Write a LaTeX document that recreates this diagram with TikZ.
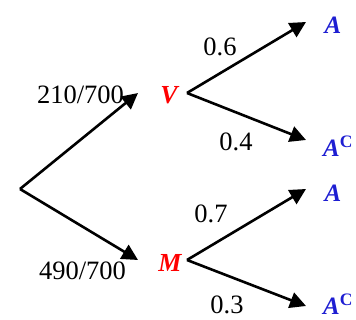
\documentclass[tikz,border=0pt]{standalone}
\usepackage{fontspec}
\setmainfont{Liberation Serif}
\usetikzlibrary{arrows.meta}
\definecolor{evred}{RGB}{255,0,0}
\definecolor{evblue}{RGB}{30,30,210}
\tikzset{
  branch/.style={line width=2.6pt,-{Triangle[length=16pt,width=16pt]}},
  num/.style={font=\fontsize{26.5}{30}\selectfont,inner sep=0pt},
  stage/.style={font=\fontsize{26}{30}\selectfont\bfseries\itshape,text=evred,inner sep=0pt},
  outc/.style={font=\fontsize{25}{30}\selectfont\bfseries\itshape,text=evblue,inner sep=0pt},
}
\begin{document}
\begin{tikzpicture}[x=1pt,y=-1pt]
\useasboundingbox (0,0) rectangle (356,320);
\coordinate (root) at (20,189);
\coordinate (vt) at (138,93);
\coordinate (mt) at (138,260);
\coordinate (vs) at (187,93);
\coordinate (ms) at (187,260);
\coordinate (va) at (306,22);
\coordinate (vc) at (306,140);
\coordinate (ma) at (306,189);
\coordinate (mc) at (306,306);
\node[stage] (V) at (169,95) {V};
\node[stage] (M) at (170,263) {M};
\node[outc] (A1) at (333,25) {A};
\node[outc,anchor=west] (C1) at (323,146) {A\textsuperscript{\upshape C}};
\node[outc] (A2) at (333,193) {A};
\node[outc,anchor=west] (C2) at (323,304) {A\textsuperscript{\upshape C}};
\draw[branch] (root) -- (vt);
\draw[branch] (root) -- (mt);
\draw[branch] (vs) -- (va);
\draw[branch] (vs) -- (vc);
\draw[branch] (ms) -- (ma);
\draw[branch] (ms) -- (mc);
\node[num] (p1) at (80.5,94.5) {210/700};
\node[num] (p2) at (82.5,271) {490/700};
\node[num] (p3) at (220,47) {0.6};
\node[num] (p4) at (236,142) {0.4};
\node[num] (p5) at (211,214) {0.7};
\node[num] (p6) at (227,305) {0.3};
\end{tikzpicture}
\end{document}
